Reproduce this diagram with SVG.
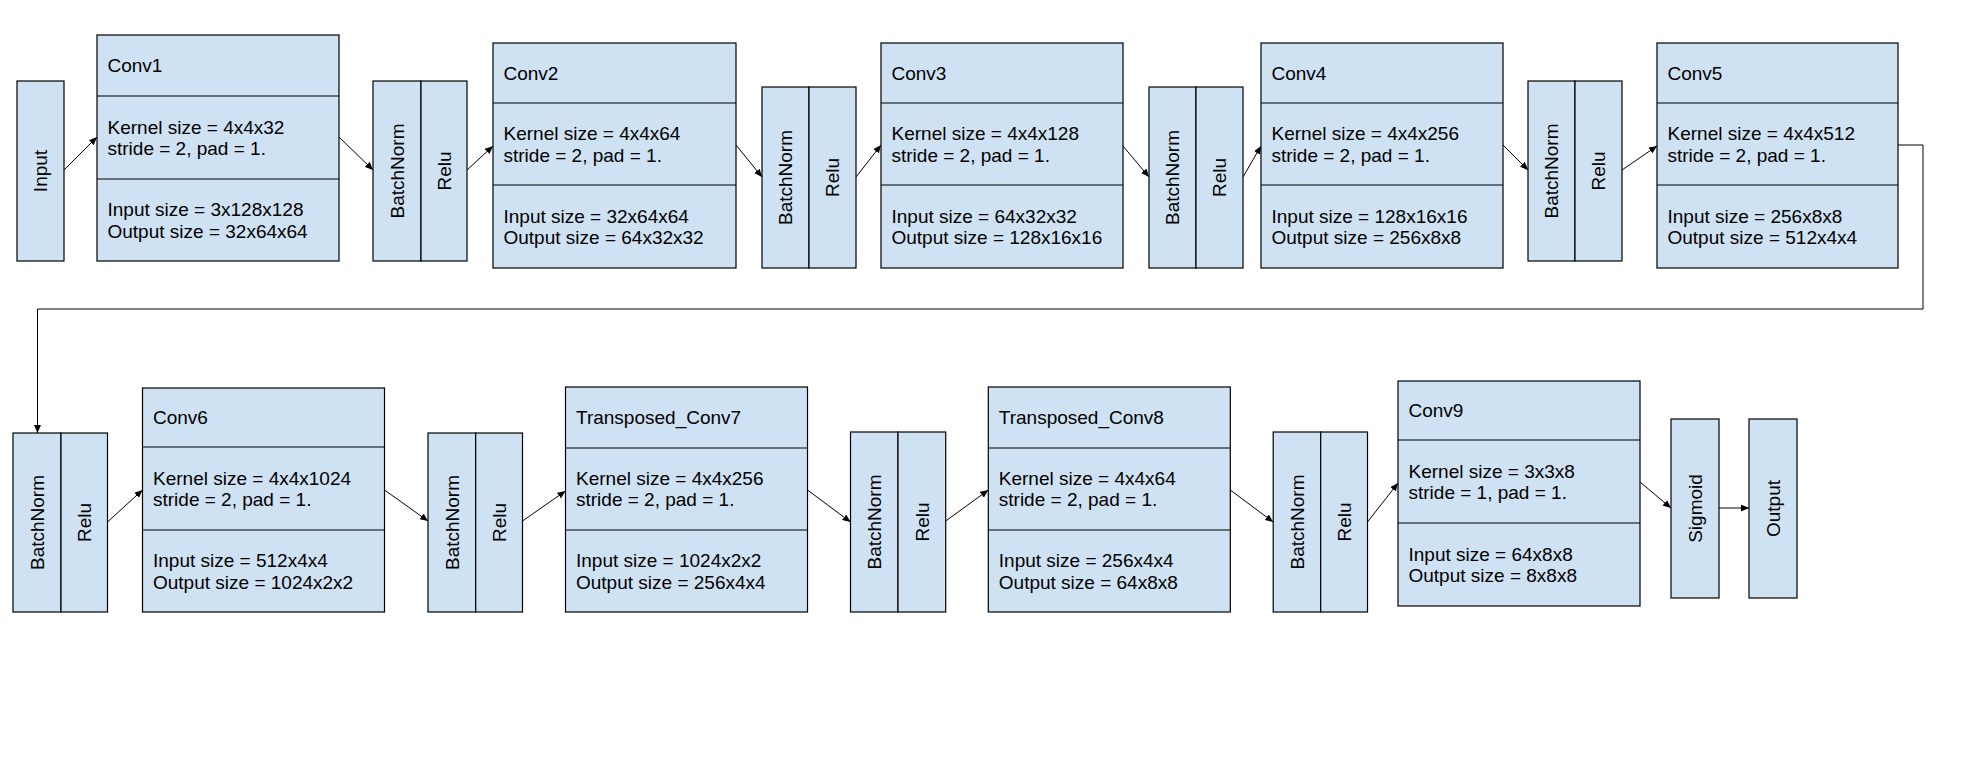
<svg xmlns="http://www.w3.org/2000/svg" width="1973" height="760" viewBox="0 0 1973 760">
<style>
.b{fill:#cfe2f3;stroke:#000;stroke-width:1.2}
.d{stroke:#000;stroke-width:1.2;fill:none}
.t{font-family:"Liberation Sans",Arial,sans-serif;font-size:19px;fill:#000}
.v{font-family:"Liberation Sans",Arial,sans-serif;font-size:19px;fill:#000;text-anchor:middle}
.c{stroke:#000;stroke-width:1;fill:none;marker-end:url(#ah)}
</style>
<defs>
<marker id="ah" markerUnits="userSpaceOnUse" markerWidth="9" markerHeight="7" refX="8" refY="3.5" orient="auto">
<path d="M0,0 L8,3.5 L0,7 Z" fill="#000"/>
</marker>
</defs>
<rect width="1973" height="760" fill="#fff"/>
<g id="connectors">
<line class="c" x1="64" y1="170" x2="97" y2="137"/>
<line class="c" x1="339" y1="137" x2="373" y2="170"/>
<line class="c" x1="467" y1="170" x2="493" y2="146"/>
<line class="c" x1="736" y1="145" x2="762" y2="177"/>
<line class="c" x1="856" y1="177" x2="881" y2="145"/>
<line class="c" x1="1123" y1="146" x2="1149" y2="177"/>
<line class="c" x1="1243" y1="177" x2="1261" y2="146"/>
<line class="c" x1="1503" y1="145" x2="1528" y2="170"/>
<line class="c" x1="1622" y1="170" x2="1657" y2="146"/>
<polyline class="c" points="1898,145 1923,145 1923,309 37.5,309 37.5,433"/>
<line class="c" x1="107.5" y1="522" x2="142.5" y2="490"/>
<line class="c" x1="384.5" y1="490" x2="428" y2="521"/>
<line class="c" x1="522.5" y1="521" x2="565.5" y2="491"/>
<line class="c" x1="807.5" y1="490" x2="850.5" y2="522"/>
<line class="c" x1="945.7" y1="521" x2="988.3" y2="490"/>
<line class="c" x1="1230.3" y1="490" x2="1273.2" y2="522"/>
<line class="c" x1="1367.5" y1="522" x2="1398" y2="483"/>
<line class="c" x1="1640" y1="482" x2="1671" y2="508"/>
<line class="c" x1="1719" y1="508" x2="1749" y2="508"/>
</g>
<g id="input">
<rect class="b" x="17" y="81" width="47" height="180"/>
<text class="v" transform="translate(47,171) rotate(-90)">Input</text>
</g>
<g id="conv1">
<rect class="b" x="97" y="35" width="242" height="226"/>
<line class="d" x1="97" y1="96" x2="339" y2="96"/>
<line class="d" x1="97" y1="179" x2="339" y2="179"/>
<text class="t" x="107.5" y="72">Conv1</text>
<text class="t" x="107.5" y="133.5">Kernel size = 4x4x32</text>
<text class="t" x="107.5" y="155">stride = 2, pad = 1.</text>
<text class="t" x="107.5" y="216">Input size = 3x128x128</text>
<text class="t" x="107.5" y="237.5">Output size = 32x64x64</text>
</g>
<g id="bnrelu1">
<rect class="b" x="373" y="81" width="48" height="180"/>
<rect class="b" x="421" y="81" width="46" height="180"/>
<text class="v" transform="translate(403.5,171) rotate(-90)">BatchNorm</text>
<text class="v" transform="translate(450.5,171) rotate(-90)">Relu</text>
</g>
<g id="conv2">
<rect class="b" x="493" y="43" width="243" height="225"/>
<line class="d" x1="493" y1="103" x2="736" y2="103"/>
<line class="d" x1="493" y1="185" x2="736" y2="185"/>
<text class="t" x="503.5" y="79.5">Conv2</text>
<text class="t" x="503.5" y="140">Kernel size = 4x4x64</text>
<text class="t" x="503.5" y="161.5">stride = 2, pad = 1.</text>
<text class="t" x="503.5" y="222.5">Input size = 32x64x64</text>
<text class="t" x="503.5" y="244">Output size = 64x32x32</text>
</g>
<g id="bnrelu2">
<rect class="b" x="762" y="87" width="47" height="181"/>
<rect class="b" x="809" y="87" width="47" height="181"/>
<text class="v" transform="translate(792,177.5) rotate(-90)">BatchNorm</text>
<text class="v" transform="translate(839,177.5) rotate(-90)">Relu</text>
</g>
<g id="conv3">
<rect class="b" x="881" y="43" width="242" height="225"/>
<line class="d" x1="881" y1="103" x2="1123" y2="103"/>
<line class="d" x1="881" y1="185" x2="1123" y2="185"/>
<text class="t" x="891.5" y="79.5">Conv3</text>
<text class="t" x="891.5" y="140">Kernel size = 4x4x128</text>
<text class="t" x="891.5" y="161.5">stride = 2, pad = 1.</text>
<text class="t" x="891.5" y="222.5">Input size = 64x32x32</text>
<text class="t" x="891.5" y="244">Output size = 128x16x16</text>
</g>
<g id="bnrelu3">
<rect class="b" x="1149" y="87" width="47" height="181"/>
<rect class="b" x="1196" y="87" width="47" height="181"/>
<text class="v" transform="translate(1179,177.5) rotate(-90)">BatchNorm</text>
<text class="v" transform="translate(1226,177.5) rotate(-90)">Relu</text>
</g>
<g id="conv4">
<rect class="b" x="1261" y="43" width="242" height="225"/>
<line class="d" x1="1261" y1="103" x2="1503" y2="103"/>
<line class="d" x1="1261" y1="185" x2="1503" y2="185"/>
<text class="t" x="1271.5" y="79.5">Conv4</text>
<text class="t" x="1271.5" y="140">Kernel size = 4x4x256</text>
<text class="t" x="1271.5" y="161.5">stride = 2, pad = 1.</text>
<text class="t" x="1271.5" y="222.5">Input size = 128x16x16</text>
<text class="t" x="1271.5" y="244">Output size = 256x8x8</text>
</g>
<g id="bnrelu4">
<rect class="b" x="1528" y="81" width="47" height="180"/>
<rect class="b" x="1575" y="81" width="47" height="180"/>
<text class="v" transform="translate(1558,171) rotate(-90)">BatchNorm</text>
<text class="v" transform="translate(1605,171) rotate(-90)">Relu</text>
</g>
<g id="conv5">
<rect class="b" x="1657" y="43" width="241" height="225"/>
<line class="d" x1="1657" y1="103" x2="1898" y2="103"/>
<line class="d" x1="1657" y1="185" x2="1898" y2="185"/>
<text class="t" x="1667.5" y="79.5">Conv5</text>
<text class="t" x="1667.5" y="140">Kernel size = 4x4x512</text>
<text class="t" x="1667.5" y="161.5">stride = 2, pad = 1.</text>
<text class="t" x="1667.5" y="222.5">Input size = 256x8x8</text>
<text class="t" x="1667.5" y="244">Output size = 512x4x4</text>
</g>
<g id="bnrelu5">
<rect class="b" x="13" y="433" width="48" height="179"/>
<rect class="b" x="61" y="433" width="46.5" height="179"/>
<text class="v" transform="translate(43.5,522.5) rotate(-90)">BatchNorm</text>
<text class="v" transform="translate(90.6,522.5) rotate(-90)">Relu</text>
</g>
<g id="conv6">
<rect class="b" x="142.5" y="388" width="242" height="224"/>
<line class="d" x1="142.5" y1="447" x2="384.5" y2="447"/>
<line class="d" x1="142.5" y1="530" x2="384.5" y2="530"/>
<text class="t" x="153" y="424">Conv6</text>
<text class="t" x="153" y="484.5">Kernel size = 4x4x1024</text>
<text class="t" x="153" y="506">stride = 2, pad = 1.</text>
<text class="t" x="153" y="567">Input size = 512x4x4</text>
<text class="t" x="153" y="588.5">Output size = 1024x2x2</text>
</g>
<g id="bnrelu6">
<rect class="b" x="428" y="433" width="47.7" height="179"/>
<rect class="b" x="475.7" y="433" width="46.8" height="179"/>
<text class="v" transform="translate(458.5,522.5) rotate(-90)">BatchNorm</text>
<text class="v" transform="translate(505.6,522.5) rotate(-90)">Relu</text>
</g>
<g id="conv7">
<rect class="b" x="565.5" y="387" width="242" height="225"/>
<line class="d" x1="565.5" y1="448" x2="807.5" y2="448"/>
<line class="d" x1="565.5" y1="530" x2="807.5" y2="530"/>
<text class="t" x="576" y="424">Transposed_Conv7</text>
<text class="t" x="576" y="484.5">Kernel size = 4x4x256</text>
<text class="t" x="576" y="506">stride = 2, pad = 1.</text>
<text class="t" x="576" y="567">Input size = 1024x2x2</text>
<text class="t" x="576" y="588.5">Output size = 256x4x4</text>
</g>
<g id="bnrelu7">
<rect class="b" x="850.5" y="432" width="47.5" height="180"/>
<rect class="b" x="898" y="432" width="47.7" height="180"/>
<text class="v" transform="translate(880.8,522) rotate(-90)">BatchNorm</text>
<text class="v" transform="translate(928.5,522) rotate(-90)">Relu</text>
</g>
<g id="conv8">
<rect class="b" x="988.3" y="387" width="242" height="225"/>
<line class="d" x1="988.3" y1="448" x2="1230.3" y2="448"/>
<line class="d" x1="988.3" y1="530" x2="1230.3" y2="530"/>
<text class="t" x="998.8" y="424">Transposed_Conv8</text>
<text class="t" x="998.8" y="484.5">Kernel size = 4x4x64</text>
<text class="t" x="998.8" y="506">stride = 2, pad = 1.</text>
<text class="t" x="998.8" y="567">Input size = 256x4x4</text>
<text class="t" x="998.8" y="588.5">Output size = 64x8x8</text>
</g>
<g id="bnrelu8">
<rect class="b" x="1273.2" y="432" width="47.5" height="180"/>
<rect class="b" x="1320.7" y="432" width="46.8" height="180"/>
<text class="v" transform="translate(1303.5,522) rotate(-90)">BatchNorm</text>
<text class="v" transform="translate(1350.6,522) rotate(-90)">Relu</text>
</g>
<g id="conv9">
<rect class="b" x="1398" y="381" width="242" height="225"/>
<line class="d" x1="1398" y1="440" x2="1640" y2="440"/>
<line class="d" x1="1398" y1="523" x2="1640" y2="523"/>
<text class="t" x="1408.5" y="417">Conv9</text>
<text class="t" x="1408.5" y="477.5">Kernel size = 3x3x8</text>
<text class="t" x="1408.5" y="499">stride = 1, pad = 1.</text>
<text class="t" x="1408.5" y="560.5">Input size = 64x8x8</text>
<text class="t" x="1408.5" y="582">Output size = 8x8x8</text>
</g>
<g id="sigmoid">
<rect class="b" x="1671" y="419" width="48" height="179"/>
<text class="v" transform="translate(1701.5,508.5) rotate(-90)">Sigmoid</text>
</g>
<g id="output">
<rect class="b" x="1749" y="419" width="48" height="179"/>
<text class="v" transform="translate(1779.5,508.5) rotate(-90)">Output</text>
</g>
</svg>
